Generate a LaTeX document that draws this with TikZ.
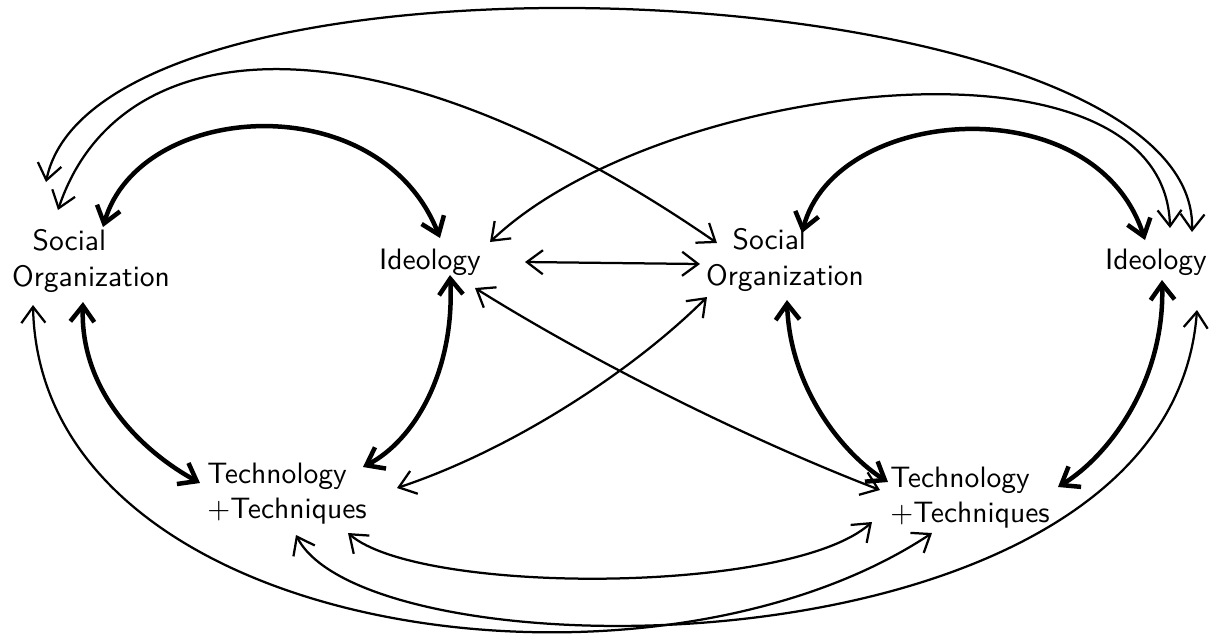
\documentclass[tikz,border=0pt]{standalone}
\usepackage{tikz}
\usetikzlibrary{arrows.meta}

\begin{document}
\begin{tikzpicture}[x=0.0125cm, y=-0.0125cm,
    every node/.style={font=\sffamily\fontsize{10.5}{12.5}\selectfont, align=left},
    link/.style={{Straight Barb[length=2mm,width=3mm]}-{Straight Barb[length=2mm,width=3mm]}, line width=0.8pt},
    strong/.style={link, line width=1.6pt}]
    \useasboundingbox (0,0) rectangle (1209,635);
    \node (socL) at (91,261) {\hspace*{0.7em}Social\\Organization};
    \node (ideoL) at (430,262) {Ideology};
    \node (techL) at (287,494) {Technology\\+Techniques};
    \node (socR) at (785,260) {\hspace*{0.9em}Social\\Organization};
    \node (ideoR) at (1156,262) {Ideology};
    \node (techR) at (970,498) {Technology\\+Techniques};

    % left triangle
    \draw[strong] ([shift={(12,-34)}]socL.center) .. controls +(37,-127) and +(-60,-153) .. ([shift={(10,-24)}]ideoL.center);
    \draw[strong] ([shift={(-8,41)}]socL.center) .. controls +(-3,88) and +(-60,-33) .. ([shift={(-87,-11)}]techL.center);
    \draw[strong] ([shift={(20,13)}]ideoL.center) .. controls +(5,95) and +(52,-27) .. ([shift={(76,-27)}]techL.center);
    % right triangle
    \draw[strong] ([shift={(17,-27)}]socR.center) .. controls +(33,-128) and +(-50,-155) .. ([shift={(-11,-22)}]ideoR.center);
    \draw[strong] ([shift={(2,40)}]socR.center) .. controls +(3,90) and +(-43,-27) .. ([shift={(-82,-16)}]techR.center);
    \draw[strong] ([shift={(6,18)}]ideoR.center) .. controls +(3,100) and +(52,-32) .. ([shift={(88,-11)}]techR.center);

    % links between the two
    \draw[link] ([shift={(95,0)}]ideoL.center) -- ([shift={(-85,4)}]socR.center);
    \draw[link] ([shift={(45,26)}]ideoL.center) .. controls +(120,75) and +(-130,-50) .. ([shift={(-90,-8)}]techR.center);
    \draw[link] ([shift={(110,-6)}]techL.center) .. controls +(120,-40) and +(-70,70) .. ([shift={(-78,37)}]socR.center);
    \draw[link] ([shift={(-33,-51)}]socL.center) .. controls +(62,-185) and +(-337,-233) .. ([shift={(-68,-17)}]socR.center);
    \draw[link] ([shift={(60,-20)}]ideoL.center) .. controls +(170,-162) and +(-5,-208) .. ([shift={(14,-34)}]ideoR.center);
    \draw[link] ([shift={(-45,-79)}]socL.center) .. controls +(54,-262) and +(8,-262) .. ([shift={(36,-30)}]ideoR.center);
    \draw[link] ([shift={(-58,44)}]socL.center) .. controls +(7,335) and +(-282,187) .. ([shift={(-38,35)}]techR.center);
    \draw[link] ([shift={(9,41)}]techL.center) .. controls +(74,145) and +(-27,370) .. ([shift={(41,48)}]ideoR.center);
    \draw[link] ([shift={(61,39)}]techL.center) .. controls +(72,62) and +(-82,73) .. ([shift={(-98,24)}]techR.center);
\end{tikzpicture}
\end{document}
